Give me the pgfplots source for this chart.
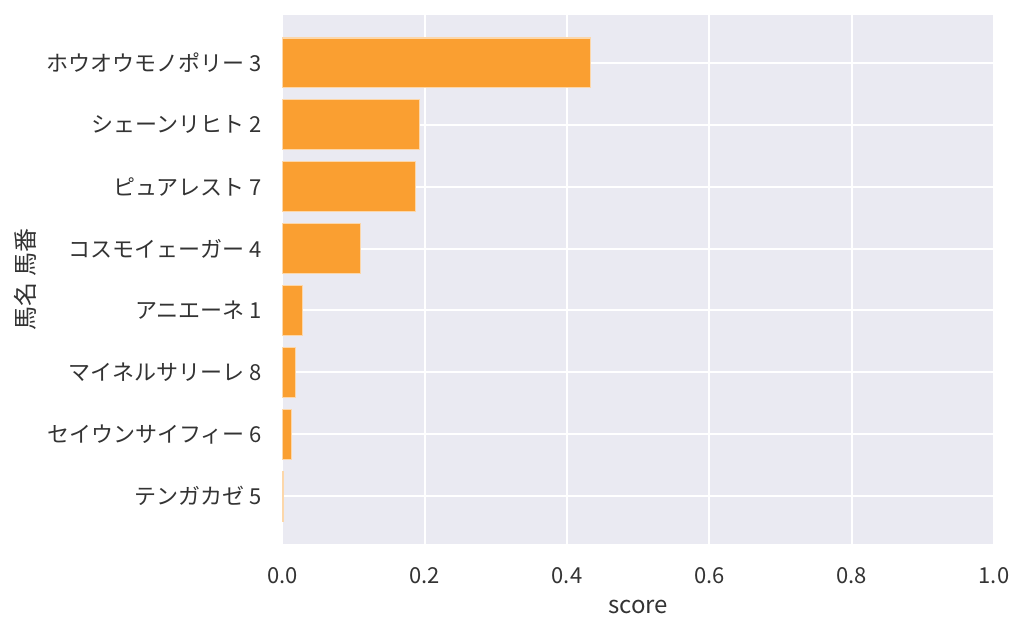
\documentclass[border=0pt]{standalone}
\usepackage{pgfplots}
\pgfplotsset{compat=1.18}
\usepackage{fontspec}
\setmainfont{Noto Sans CJK JP}
\definecolor{bg}{RGB}{234,234,242}
\definecolor{barfill}{RGB}{250,159,49}
\definecolor{baredge}{RGB}{252,215,170}
\begin{document}
\fontsize{11pt}{13pt}\selectfont
\begin{tikzpicture}
\begin{axis}[
  at={(0,0)}, anchor=south west,
  scale only axis,
  width=355.85pt, height=264.5pt,
  xmin=0, xmax=1,
  ymin=-0.77, ymax=7.77,
  y dir=reverse,
  axis background/.style={fill=bg},
  axis line style={draw=none},
  major tick length=0pt,
  grid=major,
  grid style={white, line width=1pt},
  xtick={0,0.2,0.4,0.6,0.8,1.0},
  xticklabels={0.0,0.2,0.4,0.6,0.8,1.0},
  ytick={0,1,2,3,4,5,6,7},
  yticklabels={ホウオウモノポリー 3,シェーンリヒト 2,ピュアレスト 7,コスモイェーガー 4,アニエーネ 1,マイネルサリーレ 8,セイウンサイフィー 6,テンガカゼ 5},
  /pgf/number format/assume math mode=true,
  tick label style={font=\fontsize{11pt}{13pt}\selectfont, text=black!80},
  xticklabel style={yshift=-8pt},
  yticklabel style={xshift=-6.4pt},
  xlabel={score},
  ylabel={馬名 馬番},
  every axis x label/.style={at={(axis description cs:0.5,-0.119)}, anchor=center, font=\fontsize{12pt}{14pt}\selectfont, text=black!80},
  every axis y label/.style={at={(axis description cs:-0.361,0.5)}, rotate=90, anchor=center, font=\fontsize{12pt}{14pt}\selectfont, text=black!80},
  axis on top=false,
  clip=false,
]
\addplot[xbar, bar width=0.8, bar shift=0pt, fill=barfill, draw=baredge, line width=0.6pt]
coordinates {
(0.433,0) (0.193,1) (0.187,2) (0.110,3) (0.0285,4) (0.0183,5) (0.0127,6) (0.002,7)
};
\end{axis}
\path (-141.15pt,-45pt) rectangle (370.85pt,272pt);
\end{tikzpicture}
\end{document}
